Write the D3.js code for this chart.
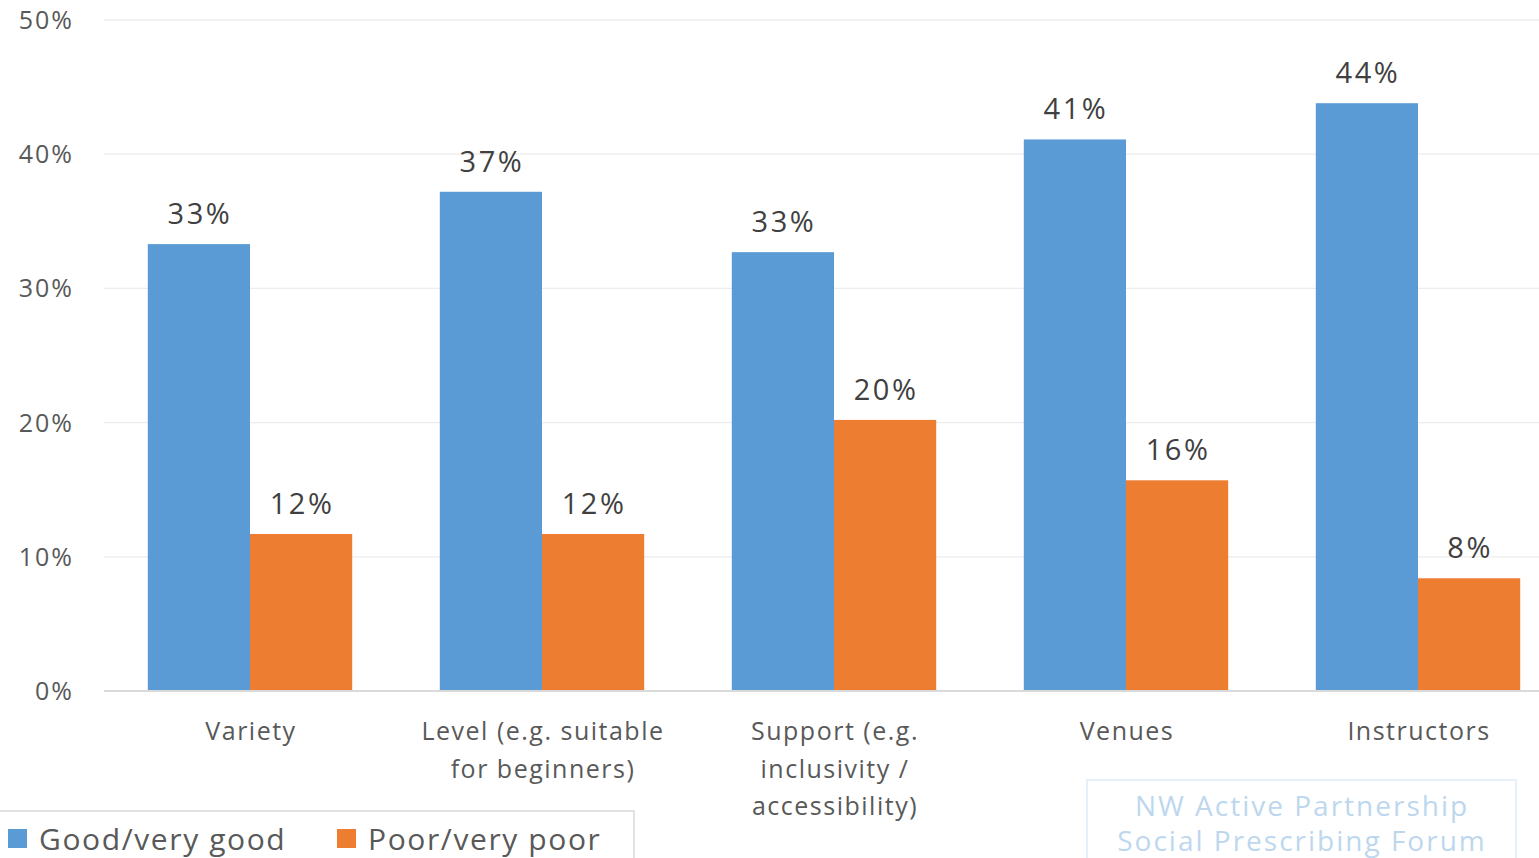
<!DOCTYPE html>
<html>
<head>
<meta charset="utf-8">
<script src="https://cdn.jsdelivr.net/npm/d3@7"></script>
<style>
  body { margin: 0; background: #fff; }
  svg { display: block; font-family: "Open Sans", sans-serif; }
</style>
</head>
<body>
<script>
const w = 1539;
const h = 858;

const categories = [
    ["Variety"],
    ["Level (e.g. suitable", "for beginners)"],
    ["Support (e.g.", "inclusivity /", "accessibility)"],
    ["Venues"],
    ["Instructors"]
];
const seriesNames = ["Good/very good", "Poor/very poor"];
const goodValues = [33.3, 37.2, 32.7, 41.1, 43.8];
const poorValues = [11.7, 11.7, 20.2, 15.7, 8.4];
const yTicks = [0, 10, 20, 30, 40, 50];
const colors = ["#5b9bd5", "#ed7d31"];

const catKeys = categories.map(d => d.join(" "));

const svg = d3.select('body').append('svg').attr('width', w).attr('height', h);

const x = d3.scaleBand().domain(catKeys).range([104, 1564])
    .paddingInner(0.3).paddingOuter(0.15);
const xs = d3.scaleBand().domain(seriesNames).range([0, x.bandwidth()]);
const y = d3.scaleLinear().domain([0, 50]).range([691, 20]);

// gridlines
svg.append('g').selectAll('line')
    .data(yTicks.slice(1))
    .enter().append('line')
    .attr('x1', 104).attr('x2', w)
    .attr('y1', d => y(d)).attr('y2', d => y(d))
    .attr('stroke', '#ececec').attr('stroke-width', 1.3);

// y tick labels
svg.append('g').selectAll('text')
    .data(yTicks)
    .enter().append('text')
    .attr('x', 74).attr('y', d => y(d) + 9)
    .attr('text-anchor', 'end')
    .attr('font-size', '25px').attr('letter-spacing', '2px').attr('fill', '#595959')
    .text(d => d + '%');

const rows = catKeys.map((k, i) => ({
    key: k,
    vals: [{s: seriesNames[0], v: goodValues[i]}, {s: seriesNames[1], v: poorValues[i]}]
}));

const groups = svg.append('g').selectAll('g')
    .data(rows)
    .enter().append('g')
    .attr('transform', d => `translate(${x(d.key)},0)`);

groups.selectAll('rect')
    .data(d => d.vals)
    .enter().append('rect')
    .attr('x', d => xs(d.s))
    .attr('width', xs.bandwidth())
    .attr('y', d => y(d.v))
    .attr('height', d => y(0) - y(d.v))
    .attr('fill', (d, i) => colors[i]);

groups.selectAll('text')
    .data(d => d.vals)
    .enter().append('text')
    .attr('x', d => xs(d.s) + xs.bandwidth() / 2 + 1)
    .attr('y', d => y(d.v) - 20)
    .attr('text-anchor', 'middle')
    .attr('font-size', '29px').attr('letter-spacing', '2.5px').attr('fill', '#404040')
    .text(d => Math.round(d.v) + '%');

// axis line
svg.append('line')
    .attr('x1', 104).attr('x2', w)
    .attr('y1', y(0)).attr('y2', y(0))
    .attr('stroke', '#d9d9d9').attr('stroke-width', 2);

// category labels
const catLabels = svg.append('g').selectAll('text')
    .data(categories)
    .enter().append('text')
    .attr('x', (d, i) => x(catKeys[i]) + x.bandwidth() / 2 + 1)
    .attr('y', 740)
    .attr('text-anchor', 'middle')
    .attr('font-size', '25px').attr('letter-spacing', '1.5px').attr('fill', '#595959');
catLabels.selectAll('tspan')
    .data(d => d)
    .enter().append('tspan')
    .attr('x', function() { return d3.select(this.parentNode).attr('x'); })
    .attr('dy', (d, i) => i === 0 ? 0 : 37.5)
    .text(d => d);

// legend
svg.append('rect')
    .attr('x', -2).attr('y', 811).attr('width', 636).attr('height', 60)
    .attr('fill', '#fff').attr('stroke', '#d9d9d9').attr('stroke-width', 1.5);
const legendX = [8, 337];
const leg = svg.append('g').selectAll('g')
    .data(seriesNames)
    .enter().append('g')
    .attr('transform', (d, i) => `translate(${legendX[i]},0)`);
leg.append('rect')
    .attr('x', 0).attr('y', 829).attr('width', 19).attr('height', 19)
    .attr('fill', (d, i) => colors[i]);
leg.append('text')
    .attr('x', 31).attr('y', 850)
    .attr('font-size', '30px').attr('letter-spacing', '1.6px').attr('fill', '#595959')
    .text(d => d);

// watermark
svg.append('rect')
    .attr('x', 1087).attr('y', 780).attr('width', 429).attr('height', 90)
    .attr('fill', 'none').attr('stroke', '#ddebf7').attr('stroke-width', 1.5);
svg.append('text')
    .attr('x', 1302).attr('y', 816)
    .attr('text-anchor', 'middle')
    .attr('font-size', '28px').attr('letter-spacing', '2px').attr('fill', '#bdd7ee')
    .text('NW Active Partnership');
svg.append('text')
    .attr('x', 1302).attr('y', 851)
    .attr('text-anchor', 'middle')
    .attr('font-size', '28px').attr('letter-spacing', '2px').attr('fill', '#bdd7ee')
    .text('Social Prescribing Forum');
</script>
</body>
</html>
